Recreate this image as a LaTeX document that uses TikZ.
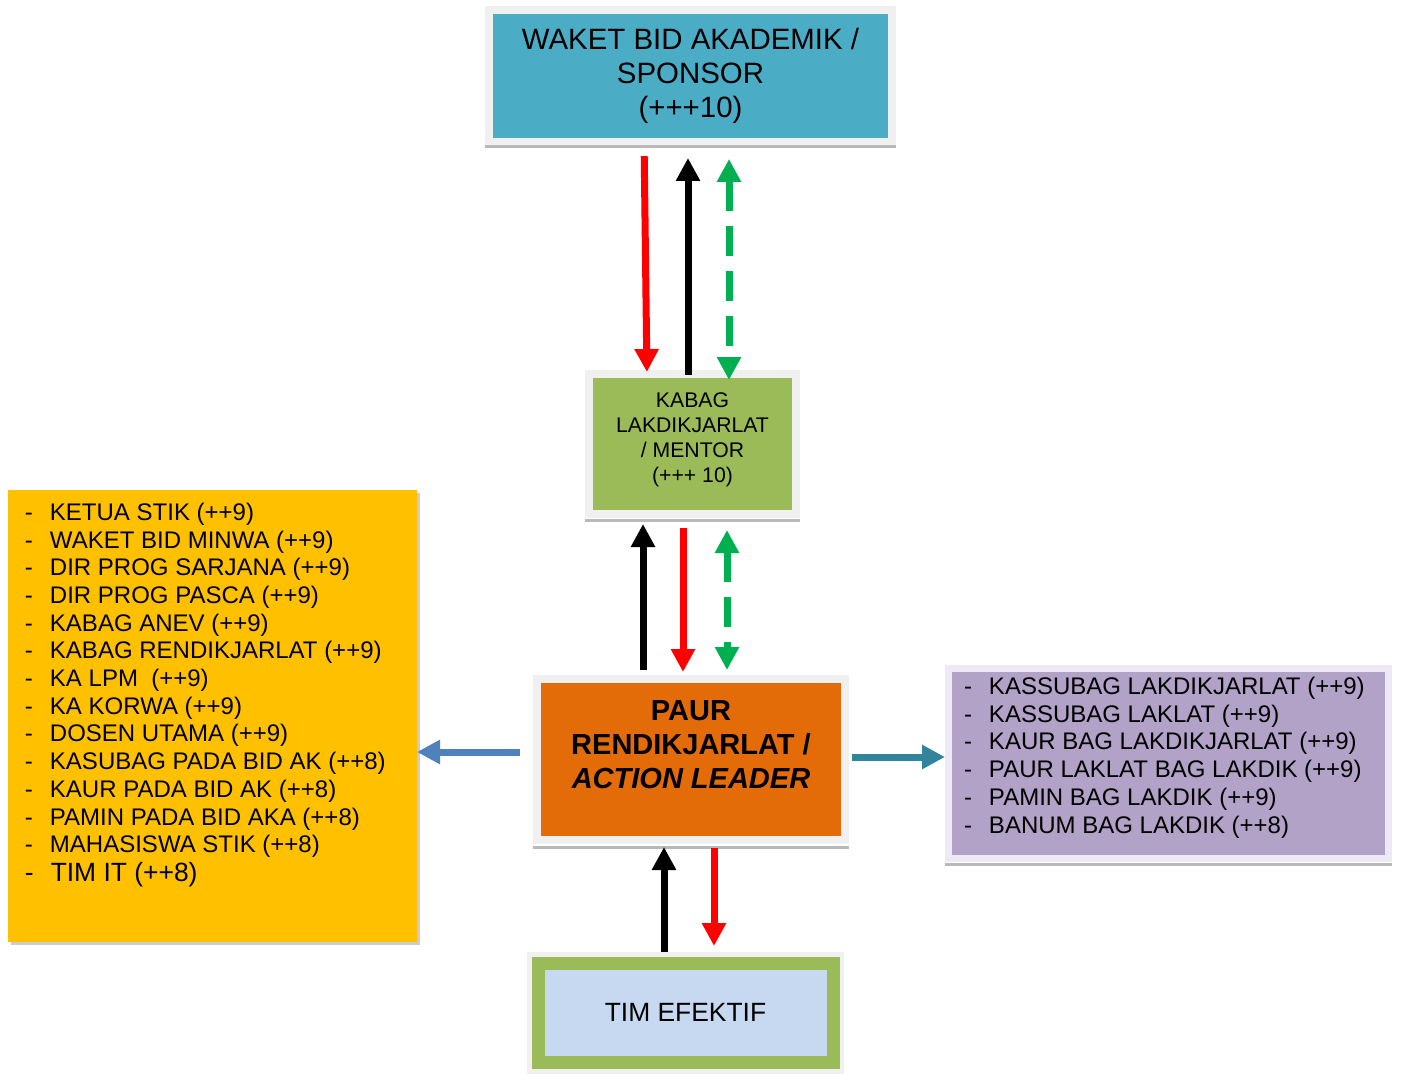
\documentclass[tikz,border=0pt]{standalone}
\usepackage{fontspec}
\setmainfont{Liberation Sans}
\usetikzlibrary{arrows.meta,shadows}

\definecolor{sponsorblue}{HTML}{4BACC6}
\definecolor{mentorgreen}{HTML}{9BBB59}
\definecolor{leaderorange}{HTML}{E36C09}
\definecolor{timblue}{HTML}{C6D9F1}
\definecolor{listyellow}{HTML}{FFC000}
\definecolor{listpurple}{HTML}{B2A2C7}
\definecolor{glowpurple}{HTML}{EEE9F4}
\definecolor{framegray}{HTML}{F0F0F0}
\definecolor{arrowred}{HTML}{FF0000}
\definecolor{arrowgreen}{HTML}{00B050}
\definecolor{arrowblue}{HTML}{4F81BD}
\definecolor{arrowteal}{HTML}{31849B}

\newcommand{\dashitem}{-\hspace{8.5pt}}

\tikzset{
	box/.style={rectangle, inner sep=0pt, outer sep=0pt, align=center, preaction={draw=framegray, line width=8pt}},
	boxedge/.style={draw=gray!55, line width=1.5pt},
	listbox/.style={rectangle, inner sep=0pt, outer sep=0pt},
	listtext/.style={inner sep=0pt, outer sep=0pt, align=left, anchor=north west},
	flow/.style={line width=3.5pt, -{Triangle[width=11.5pt,length=11.5pt]}},
	feedback/.style={line width=3.5pt, arrowgreen, dash pattern=on 15pt off 7.5pt, {Triangle[width=11.5pt,length=11.5pt]}-{Triangle[width=11.5pt,length=11.5pt]}}
}

\begin{document}
\begin{tikzpicture}[x=0.5pt, y=-0.5pt]
		\useasboundingbox (0, 0) rectangle (1403, 1075);

		% boxes in the middle
		\node[box, fill=sponsorblue, minimum width=197.5pt, minimum height=62pt, font=\fontsize{14.7}{17}\selectfont] (sponsor) at (690.5, 76) {WAKET BID AKADEMIK /\\SPONSOR\\(+++10)};
		\node[box, fill=mentorgreen, minimum width=99.5pt, minimum height=66pt, font=\fontsize{10.6}{12.5}\selectfont] (mentor) at (692.5, 444) {KABAG\\LAKDIKJARLAT\\/ MENTOR\\(+++ 10)\\[-6.5pt]\mbox{}};
		\node[box, fill=leaderorange, minimum width=150pt, minimum height=76.5pt, font=\bfseries\fontsize{14.5}{17}\selectfont] (leader) at (691, 759.5) {PAUR\\RENDIKJARLAT /\\\textit{ACTION LEADER}\\[-2.5pt]\mbox{}};
		\node[rectangle, inner sep=0pt, outer sep=0pt, fill=timblue, draw=mentorgreen, line width=6.5pt, preaction={draw=framegray, line width=11pt}, minimum width=147.5pt, minimum height=49.75pt, font=\fontsize{13.2}{15}\selectfont] (tim) at (685.5, 1012.75) {TIM EFEKTIF};

		\draw[boxedge]	([shift={(-4pt,-4.5pt)}]sponsor.south west) to ([shift={(4pt,-4.5pt)}]sponsor.south east);
		\draw[boxedge]	([shift={(-4pt,-5pt)}]mentor.south west) to ([shift={(4pt,-5pt)}]mentor.south east);
		\draw[boxedge]	([shift={(-4pt,-5.5pt)}]leader.south west) to ([shift={(4pt,-5.5pt)}]leader.south east);

		% side lists
		\node[listbox, fill=listyellow, minimum width=204.5pt, minimum height=226pt, drop shadow={shadow xshift=1.5pt, shadow yshift=-1.5pt, fill=black!40}] (pejabat) at (212.5, 716) {};
		\node[listtext, font=\fontsize{12}{13.85}\selectfont] (pejabatlist) at ([shift={(8.5pt,-6.5pt)}]pejabat.north west) {\dashitem KETUA STIK (++9)\\
			\dashitem WAKET BID MINWA (++9)\\
			\dashitem DIR PROG SARJANA (++9)\\
			\dashitem DIR PROG PASCA (++9)\\
			\dashitem KABAG ANEV (++9)\\
			\dashitem KABAG RENDIKJARLAT (++9)\\
			\dashitem KA LPM\ \ (++9)\\
			\dashitem KA KORWA (++9)\\
			\dashitem DOSEN UTAMA (++9)\\
			\dashitem KASUBAG PADA BID AK (++8)\\
			\dashitem KAUR PADA BID AK (++8)\\
			\dashitem PAMIN PADA BID AKA (++8)\\
			\dashitem MAHASISWA STIK (++8)\\[0.7pt]
			{\fontsize{13.2}{15}\selectfont\dashitem TIM IT (++8)}};

		\node[listbox, fill=listpurple, minimum width=216.5pt, minimum height=91.5pt, preaction={draw=glowpurple, line width=7pt}] (lakdik) at (1168.5, 763.5) {};
		\draw[boxedge]	([shift={(-3.5pt,-4.5pt)}]lakdik.south west) to ([shift={(3.5pt,-4.5pt)}]lakdik.south east);
		\node[listtext, font=\fontsize{12}{13.9}\selectfont] (lakdiklist) at ([shift={(6pt,-2.5pt)}]lakdik.north west) {\dashitem KASSUBAG LAKDIKJARLAT (++9)\\
			\dashitem KASSUBAG LAKLAT (++9)\\
			\dashitem KAUR BAG LAKDIKJARLAT (++9)\\
			\dashitem PAUR LAKLAT BAG LAKDIK (++9)\\
			\dashitem PAMIN BAG LAKDIK (++9)\\
			\dashitem BANUM BAG LAKDIK (++8)};

		% sponsor <-> mentor
		\draw[flow, arrowred, shorten <=9pt, shorten >=3pt]	([xshift=-23.25pt]sponsor.south) to ([xshift=-22.75pt]mentor.north);
		\draw[flow, black, shorten <=1.5pt, shorten >=10pt]	([xshift=-2.25pt]mentor.north) to ([xshift=-1.25pt]sponsor.south);
		\draw[feedback, shorten <=10.5pt, shorten >=-1pt]	([xshift=19.25pt]sponsor.south) to ([xshift=18.25pt]mentor.north);

		% mentor <-> leader
		\draw[flow, black, shorten <=6.5pt, shorten >=7pt]	([xshift=-24pt]leader.north) to ([xshift=-24.75pt]mentor.south);
		\draw[flow, arrowred, shorten <=9pt, shorten >=5.5pt]	([xshift=-4.75pt]mentor.south) to ([xshift=-4pt]leader.north);
		\draw[feedback, shorten <=10pt, shorten >=6.5pt]	([xshift=17.25pt]mentor.south) to ([xshift=18pt]leader.north);

		% leader <-> tim
		\draw[flow, black, shorten <=5.5pt, shorten >=5.5pt]	([xshift=-10.75pt]tim.north) to ([xshift=-13.5pt]leader.south);
		\draw[flow, arrowred, shorten <=6pt, shorten >=8.5pt]	([xshift=11.5pt]leader.south) to ([xshift=14.25pt]tim.north);

		% leader to the side lists
		\draw[flow, arrowblue, shorten <=10.5pt]	([yshift=3.75pt]leader.west) to ([yshift=3.75pt]leader.west -| pejabat.east);
		\draw[flow, arrowteal, shorten <=5.5pt, shorten >=3.5pt]	([yshift=1.25pt]leader.east) to ([yshift=1.25pt]leader.east -| lakdik.west);
	\end{tikzpicture}
\end{document}
